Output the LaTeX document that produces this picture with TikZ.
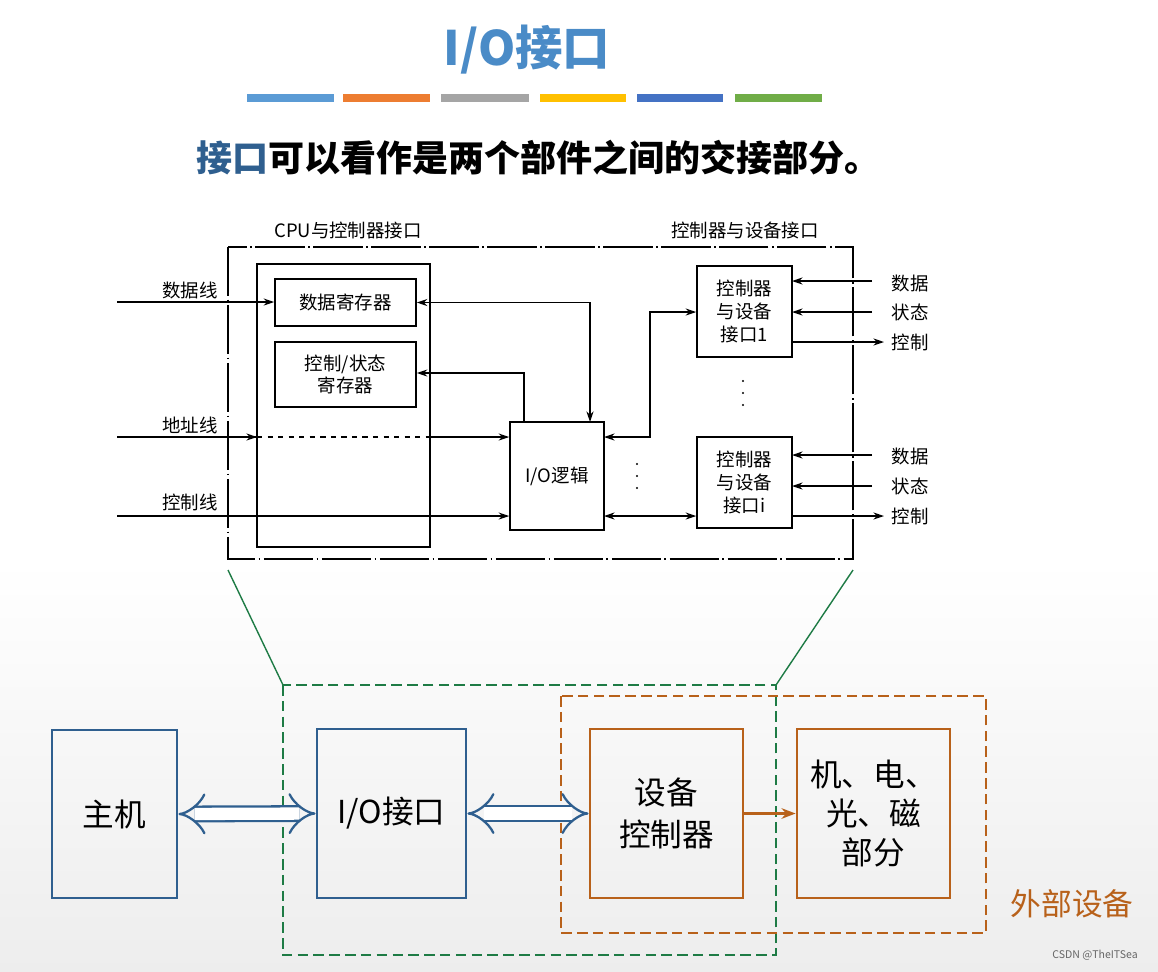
\documentclass[tikz,border=0pt]{standalone}
\usepackage{fontspec}
\setmainfont{Noto Sans CJK SC}
\usetikzlibrary{arrows.meta,arrows}
\definecolor{tblue}{HTML}{4A8BC7}
\definecolor{bblue}{HTML}{2F5F8F}
\definecolor{aorange}{HTML}{B8611A}
\definecolor{dgreen}{HTML}{1E7B45}
\definecolor{c1}{HTML}{5B9BD5}\definecolor{c2}{HTML}{ED7D31}\definecolor{c3}{HTML}{A5A5A5}
\definecolor{c4}{HTML}{FFC000}\definecolor{c5}{HTML}{4472C4}\definecolor{c6}{HTML}{70AD47}
\begin{document}
\begin{tikzpicture}[x=0.02cm,y=-0.02cm,
  blk/.style={draw,line width=0.9pt,inner sep=0pt,align=center,font=\fontsize{10.5}{13}\selectfont},
  lbl/.style={font=\fontsize{10.5}{12}\selectfont},
  arr/.style={-{Stealth[length=6pt,width=4pt]},line width=0.8pt},
  darr/.style={{Stealth[length=6pt,width=4pt]}-{Stealth[length=6pt,width=4pt]},line width=0.8pt},
  bbox/.style={draw=bblue,line width=1.6pt,inner sep=0pt,font=\fontsize{18}{24}\selectfont},
  obox/.style={draw=aorange,line width=1.6pt,inner sep=0pt,align=center,font=\fontsize{18}{24}\selectfont},
  hollow/.style={draw=bblue,line width=1.3pt,double=white,double distance=7pt,Implies-Implies},
  bar/.style={line width=4.5pt}]
\useasboundingbox (0,0) rectangle (1158,971);
\fill[white] (0,0) rectangle (1158,560);
\shade[top color=white,bottom color=black!7] (0,560) rectangle (1158,971);
% title
\node[font=\fontsize{27}{30}\selectfont\bfseries,text=tblue] (title) at (527,50) {I/O接口};
\draw[bar,c1] (247,98) -- (334,98);
\draw[bar,c2] (343,98) -- (430,98);
\draw[bar,c3] (441,98) -- (529,98);
\draw[bar,c4] (540,98) -- (626,98);
\draw[bar,c5] (637,98) -- (723,98);
\draw[bar,c6] (735,98) -- (822,98);
\node[anchor=west,font=\fontsize{20.5}{23}\selectfont\bfseries] (sub) at (190,158) {\textcolor{bblue}{接口}可以看作是两个部件之间的交接部分。};
% inner diagram
\fill[white] (113,215) rectangle (938,570);
\draw[line width=0.7pt,dash pattern=on 28pt off 2pt on 1pt off 2pt] (228,247) rectangle (853,559);
\node[lbl] (h1) at (348,230) {CPU与控制器接口};
\node[lbl] (h2) at (745,230) {控制器与设备接口};
\draw[line width=0.9pt] (257,264) rectangle (430,547);
\node[blk,minimum width=141*0.02cm,minimum height=47*0.02cm] (dr) at (345.5,302.5) {数据寄存器};
\node[blk,minimum width=141*0.02cm,minimum height=65*0.02cm] (cr) at (345.5,374.5) {控制/状态\\寄存器};
\node[blk,minimum width=94*0.02cm,minimum height=108*0.02cm] (io) at (557,476) {I/O逻辑};
\node[blk,minimum width=95*0.02cm,minimum height=91*0.02cm] (d1) at (744.5,311.5) {控制器\\与设备\\接口1};
\node[blk,minimum width=95*0.02cm,minimum height=91*0.02cm] (di) at (744.5,482.5) {控制器\\与设备\\接口i};
\coordinate (a1) at (117,302); \coordinate (a2) at (117,437); \coordinate (a3) at (117,516);
\node[lbl] at (190,290) {数据线};
\node[lbl] at (190,425) {地址线};
\node[lbl] at (190,502) {控制线};
\draw[arr] (a1) -- (dr.west|-a1);
\draw[line width=0.8pt] (a2) -- (257,437);
\draw[arr] (200,437) -- (257,437);
\draw[line width=0.8pt,dashed] (257,437) -- (430,437);
\draw[arr] (430,437) -- (io.west|-a2);
\draw[arr] (a3) -- (io.west|-a3);
\draw[darr] (dr.east) -- (590,302.5) -- (590,422);
\draw[arr] (524,422) -- (524,373) -- (cr.east|-0,373);
\draw[darr] (604,437) -- (650,437) -- (650,312) -- (d1.west|-0,312);
\draw[darr] (604,516) -- (di.west|-0,516);
\foreach \y in {464,476,488} \fill (637,\y) circle (1.2);
\foreach \y in {381,393,405} \fill (743,\y) circle (1.2);
\foreach \yy/\t in {283/数据,312/状态,342/控制,456/数据,486/状态,516/控制}
  \node[lbl] at (910,\yy) {\t};
\draw[arr] (872,281) -- (792,281);
\draw[arr] (872,312) -- (792,312);
\draw[arr] (792,342) -- (884,342);
\draw[arr] (872,455) -- (792,455);
\draw[arr] (872,486) -- (792,486);
\draw[arr] (792,516) -- (884,516);
% zoom lines
\draw[dgreen,line width=0.8pt] (228,570) -- (283,685);
\draw[dgreen,line width=0.8pt] (853,570) -- (776,685);
% bottom
\draw[dgreen,line width=1.5pt,dash pattern=on 6pt off 3pt] (283,685) rectangle (776,955);
\draw[aorange,line width=1.5pt,dash pattern=on 6pt off 3pt] (561,696) rectangle (986,933);
\node[bbox,minimum width=125*0.02cm,minimum height=168*0.02cm] (host) at (114.5,814) {主机};
\node[bbox,minimum width=149*0.02cm,minimum height=169*0.02cm] (iof) at (391.5,813.5) {I/O接口};
\node[obox,minimum width=153*0.02cm,minimum height=169*0.02cm] (dc) at (666.5,813.5) {设备\\控制器};
\node[obox,minimum width=153*0.02cm,minimum height=169*0.02cm,font=\fontsize{18}{22}\selectfont] (mp) at (873.5,813.5) {机、电、\\光、磁\\部分};
\draw[hollow] (host.east) -- (iof.west);
\draw[hollow] (iof.east) -- (dc.west);
\draw[aorange,line width=1.5pt,-{Stealth[length=8pt,width=6pt]}] (dc.east) -- (mp.west);
\node[text=aorange,font=\fontsize{17.5}{20}\selectfont] (ext) at (1072,904) {外部设备};
\node[text=black!60,font=\fontsize{6}{7}\selectfont] (wm) at (1095,955) {CSDN @TheITSea};
\end{tikzpicture}
\end{document}
